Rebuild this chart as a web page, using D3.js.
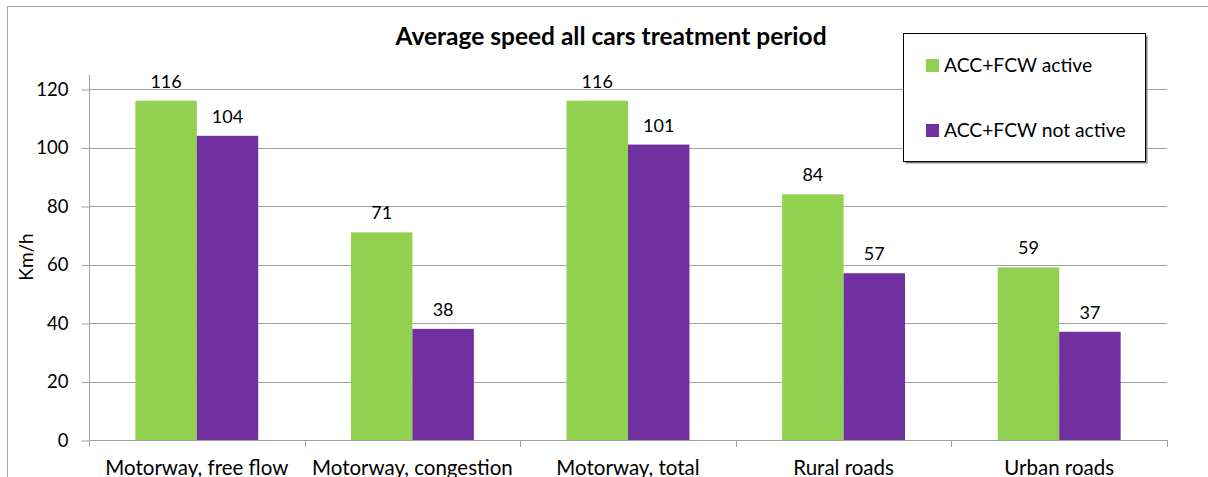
<!DOCTYPE html>
<html>
<head>
<meta charset="utf-8">
<script src="https://cdn.jsdelivr.net/npm/d3@7"></script>
<style>
  body { margin: 0; background: #fff; }
  svg { display: block; font-family: Lato, "Open Sans", sans-serif; }
</style>
</head>
<body>
<svg id="chart" width="1208" height="477"></svg>
<script>
// data
var categories = ["Motorway, free flow", "Motorway, congestion", "Motorway, total", "Rural roads", "Urban roads"];
var seriesNames = ["ACC+FCW active", "ACC+FCW not active"];
var activeValues = [116, 71, 116, 84, 59];
var notActiveValues = [104, 38, 101, 57, 37];
var yTicks = [0, 20, 40, 60, 80, 100, 120];
var colors = ["#92d050", "#7030a0"];

var svg = d3.select("#chart"),
    width = +svg.attr("width"),
    height = +svg.attr("height");

var margin = {left: 89, right: 41, top: 89, bottom: 37};
var plotW = width - margin.left - margin.right;

// outer chart border (runs off to the right)
svg.append("rect")
    .attr("x", 7.5).attr("y", 6.5)
    .attr("width", 1260).attr("height", 500)
    .attr("fill", "none").attr("stroke", "#a6a6a6");

var x0 = d3.scaleBand().domain(categories).range([margin.left, margin.left + plotW]).paddingInner(0.43).paddingOuter(0.215);
var x1 = d3.scaleBand().domain(seriesNames).range([0, x0.bandwidth()]);
var y = d3.scaleLinear().domain([0, 120]).range([440, margin.top]);

// gridlines
svg.append("g").selectAll("line")
    .data(yTicks.filter(function (d) { return d > 0; }))
    .enter().append("line")
    .attr("x1", margin.left).attr("x2", margin.left + plotW)
    .attr("y1", function (d) { return Math.round(y(d)) + 0.5; })
    .attr("y2", function (d) { return Math.round(y(d)) + 0.5; })
    .attr("stroke", "#a0a0a0");

// y axis
var yAxis = svg.append("g")
    .attr("transform", "translate(" + (margin.left + 0.5) + ",0.5)")
    .call(d3.axisLeft(y).tickValues(yTicks).tickSize(8).tickPadding(13));
yAxis.select(".domain").attr("stroke", "#a0a0a0").attr("d", "M0," + (y(0) + 0.5) + "V" + (y(125)));
yAxis.selectAll(".tick line").attr("stroke", "#a0a0a0");
yAxis.selectAll("text").attr("font-size", 18.5).attr("fill", "#000").attr("font-family", "Lato, sans-serif");

// x axis
var bounds = d3.range(categories.length + 1).map(function (i) { return margin.left + i * plotW / categories.length; });
var xg = svg.append("g");
xg.append("line")
    .attr("x1", margin.left).attr("x2", margin.left + plotW)
    .attr("y1", Math.round(y(0)) + 0.5).attr("y2", Math.round(y(0)) + 0.5)
    .attr("stroke", "#a0a0a0");
xg.selectAll("line.tk").data(bounds).enter().append("line")
    .attr("class", "tk")
    .attr("x1", function (d) { return Math.round(d) + 0.5; })
    .attr("x2", function (d) { return Math.round(d) + 0.5; })
    .attr("y1", y(0)).attr("y2", y(0) + 7)
    .attr("stroke", "#a0a0a0");
xg.selectAll("text").data(categories).enter().append("text")
    .attr("x", function (d) { return x0(d) + x0.bandwidth() / 2; })
    .attr("y", 475)
    .attr("text-anchor", "middle")
    .attr("font-size", 20.5)
    .text(function (d) { return d; });

// bars
var rows = categories.map(function (c, i) {
    return {cat: c, vals: [activeValues[i], notActiveValues[i]]};
});
var groups = svg.append("g").selectAll("g")
    .data(rows).enter().append("g")
    .attr("transform", function (d) { return "translate(" + x0(d.cat) + ",0)"; });

groups.selectAll("rect")
    .data(function (d) { return d.vals.map(function (v, j) { return {name: seriesNames[j], v: v, j: j}; }); })
    .enter().append("rect")
    .attr("x", function (d) { return x1(d.name); })
    .attr("width", x1.bandwidth())
    .attr("y", function (d) { return y(d.v); })
    .attr("height", function (d) { return y(0) - y(d.v); })
    .attr("fill", function (d) { return colors[d.j]; });

groups.selectAll("text")
    .data(function (d) { return d.vals.map(function (v, j) { return {name: seriesNames[j], v: v}; }); })
    .enter().append("text")
    .attr("x", function (d) { return x1(d.name) + x1.bandwidth() / 2; })
    .attr("y", function (d) { return y(d.v) - 13; })
    .attr("text-anchor", "middle")
    .attr("font-size", 18)
    .text(function (d) { return d.v; });

// y label
svg.append("text")
    .attr("transform", "translate(33,257) rotate(-90)")
    .attr("text-anchor", "middle")
    .attr("font-size", 19)
    .text("Km/h");

// title
svg.append("text")
    .attr("x", 611).attr("y", 45)
    .attr("text-anchor", "middle")
    .attr("font-size", 24.5)
    .attr("font-weight", "bold")
    .text("Average speed all cars treatment period");

// legend
var lg = svg.append("g");
lg.append("rect")
    .attr("x", 905.5).attr("y", 35.5).attr("width", 242).attr("height", 128)
    .attr("fill", "#808080");
lg.append("rect")
    .attr("x", 903.5).attr("y", 33.5).attr("width", 242).attr("height", 128)
    .attr("fill", "#fff").attr("stroke", "#000");
var items = lg.selectAll("g.it").data(seriesNames).enter().append("g")
    .attr("class", "it")
    .attr("transform", function (d, i) { return "translate(926," + (59 + i * 65) + ")"; });
items.append("rect").attr("width", 13).attr("height", 13)
    .attr("fill", function (d, i) { return colors[i]; });
items.append("text").attr("x", 18).attr("y", 13)
    .attr("font-size", 19.3)
    .text(function (d) { return d; });
</script>
</body>
</html>
